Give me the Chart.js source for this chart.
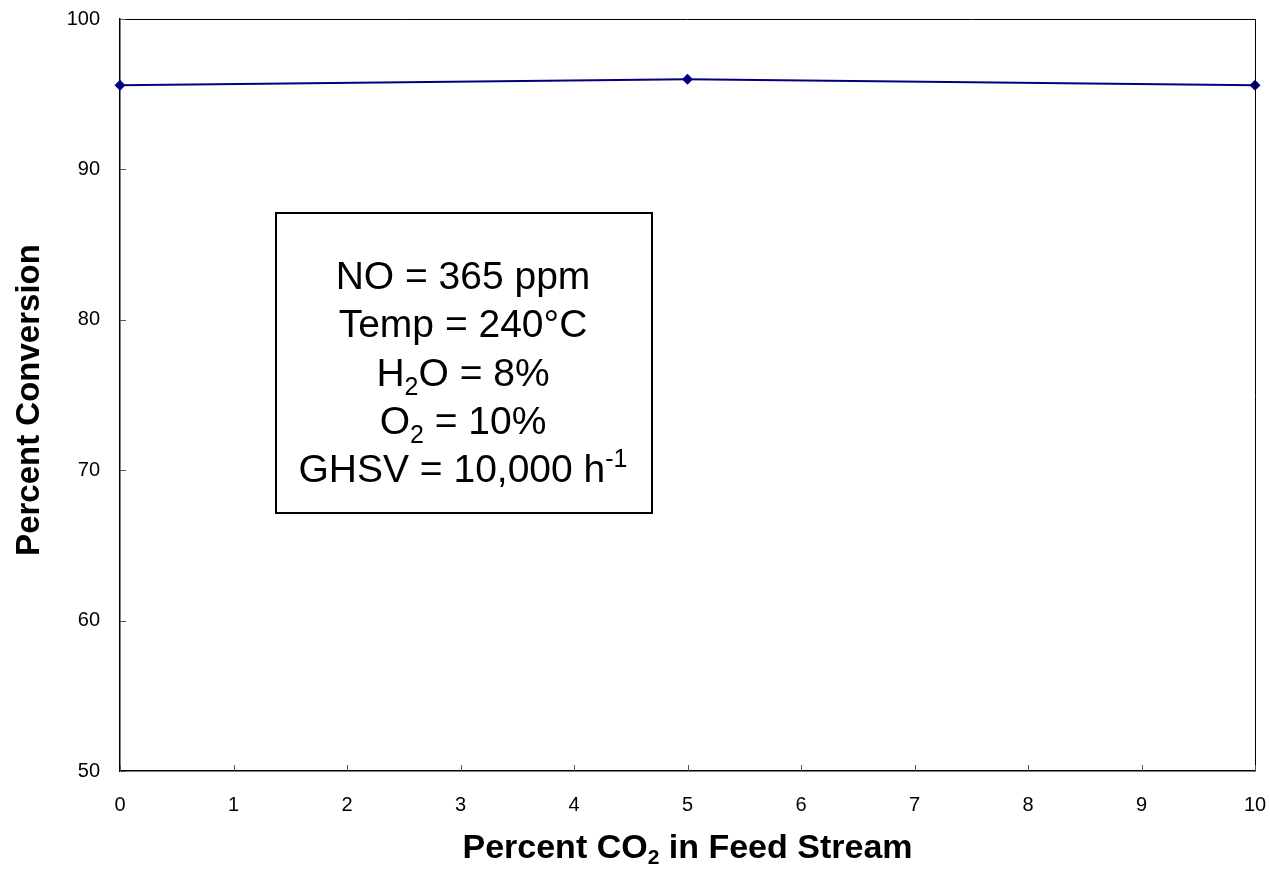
<!DOCTYPE html>
<html>
<head>
<meta charset="utf-8">
<script src="https://cdn.jsdelivr.net/npm/chart.js@4.4.1/dist/chart.umd.min.js"></script>
<style>
  html, body { margin: 0; padding: 0; background: #fff; }
  #wrap { width: 1270px; height: 871px; }
</style>
</head>
<body>
<div id="wrap"><canvas id="chart" width="1270" height="871"></canvas></div>
<script>
// CO2 in feed (%) vs NO conversion (%)
const co2Percent = [0, 5, 10];
const conversion = [95.6, 96.0, 95.6];

const xTicks = [0, 1, 2, 3, 4, 5, 6, 7, 8, 9, 10];
const yTicks = [50, 60, 70, 80, 90, 100];

// conditions box: [main text, subscript, rest, superscript]
const conditions = [
  ['NO = 365 ppm', '', '', ''],
  ['Temp = 240\u00B0C', '', '', ''],
  ['H', '2', 'O = 8%', ''],
  ['O', '2', ' = 10%', ''],
  ['GHSV = 10,000 h', '', '', '-1']
];

const FONT = '"Liberation Sans", Arial, Helvetica, sans-serif';

// inward tick marks, frame, axis titles and the conditions box
const decorations = {
  id: 'decorations',
  afterDraw(chart) {
    const { ctx, chartArea: a, scales } = chart;
    ctx.save();

    // frame on top/right
    ctx.strokeStyle = '#000';
    ctx.lineWidth = 1;
    ctx.beginPath();
    ctx.moveTo(a.left, a.top + 0.5);
    ctx.lineTo(a.right + 0.5, a.top + 0.5);
    ctx.lineTo(a.right + 0.5, a.bottom);
    ctx.stroke();

    // ticks pointing into the plot
    ctx.strokeStyle = '#555';
    ctx.lineWidth = 1;
    ctx.beginPath();
    xTicks.forEach(v => {
      const px = Math.round(scales.x.getPixelForValue(v)) + 0.5;
      ctx.moveTo(px, a.bottom);
      ctx.lineTo(px, a.bottom - 6);
    });
    yTicks.forEach(v => {
      const py = Math.round(scales.y.getPixelForValue(v)) + 0.5;
      ctx.moveTo(a.left, py);
      ctx.lineTo(a.left + 6, py);
    });
    ctx.stroke();

    ctx.fillStyle = '#000';
    ctx.textBaseline = 'alphabetic';

    // x axis title with CO2 subscript
    const big = 'bold 33px ' + FONT;
    const sub = 'bold 21px ' + FONT;
    const parts = [['Percent CO', 'bold 34px ' + FONT, 0], ['2', sub, 6], [' in Feed Stream', 'bold 34px ' + FONT, 0]];
    let w = 0;
    parts.forEach(p => { ctx.font = p[1]; w += ctx.measureText(p[0]).width; });
    let x = (a.left + a.right) / 2 - w / 2;
    const yb = 858;
    ctx.textAlign = 'left';
    parts.forEach(p => {
      ctx.font = p[1];
      ctx.fillText(p[0], x, yb + p[2]);
      x += ctx.measureText(p[0]).width;
    });

    // y axis title
    ctx.save();
    ctx.translate(39, 400);
    ctx.rotate(-Math.PI / 2);
    ctx.font = big;
    ctx.textAlign = 'center';
    ctx.fillText('Percent Conversion', 0, 0);
    ctx.restore();

    // conditions box
    ctx.strokeStyle = '#000';
    ctx.lineWidth = 2;
    ctx.strokeRect(276, 213, 376, 300);
    const main = '39px ' + FONT;
    const small = '25px ' + FONT;
    const cx = 463;
    conditions.forEach((row, i) => {
      const base = 289 + i * 48.25;
      const segs = [[row[0], main, 0], [row[1], small, 9], [row[2], main, 0], [row[3], small, -15]];
      let tw = 0;
      segs.forEach(s => { ctx.font = s[1]; tw += ctx.measureText(s[0]).width; });
      let sx = cx - tw / 2;
      segs.forEach(s => {
        if (!s[0]) return;
        ctx.font = s[1];
        ctx.fillText(s[0], sx, base + s[2]);
        sx += ctx.measureText(s[0]).width;
      });
    });

    ctx.restore();
  }
};

new Chart(document.getElementById('chart').getContext('2d'), {
  type: 'line',
  data: {
    datasets: [{
      data: co2Percent.map((x, i) => ({ x: x, y: conversion[i] })),
      borderColor: '#000080',
      backgroundColor: '#000080',
      borderWidth: 2,
      pointStyle: 'rectRot',
      pointRadius: 5.5,
      pointBorderWidth: 0,
      tension: 0,
      clip: false
    }]
  },
  options: {
    responsive: false,
    animation: false,
    layout: { padding: { top: 19, right: 15, left: 0, bottom: 0 } },
    plugins: { legend: { display: false }, tooltip: { enabled: false } },
    scales: {
      x: {
        type: 'linear',
        min: 0,
        max: 10,
        afterBuildTicks: s => { s.ticks = xTicks.map(v => ({ value: v })); },
        afterFit: s => { s.height = 100; s.paddingLeft = 0; s.paddingRight = 0; },
        grid: { display: false, drawTicks: false },
        border: { display: true, color: '#000', width: 1.5 },
        ticks: { color: '#000', padding: 22, maxRotation: 0, font: { family: FONT, size: 20 } }
      },
      y: {
        min: 50,
        max: 100,
        afterBuildTicks: s => { s.ticks = yTicks.map(v => ({ value: v })); },
        afterFit: s => { s.width = 120; s.paddingTop = 0; s.paddingBottom = 0; },
        grid: { display: false, drawTicks: false },
        border: { display: true, color: '#000', width: 1.5 },
        ticks: { color: '#000', padding: 20, font: { family: FONT, size: 20 } }
      }
    }
  },
  plugins: [decorations]
});
</script>
</body>
</html>
